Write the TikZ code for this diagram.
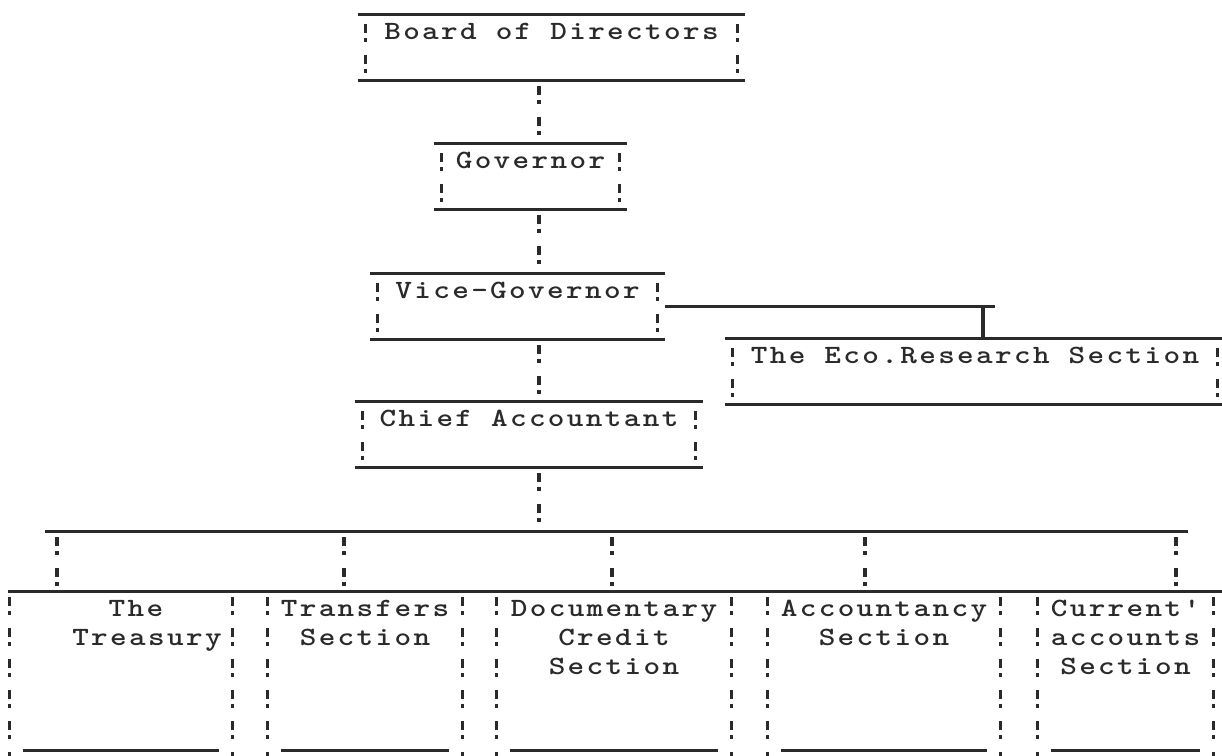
\documentclass[tikz,border=0pt]{standalone}
\usepackage{fontspec}
\usetikzlibrary{positioning}

\definecolor{ink}{HTML}{2A2A2A}
\newfontfamily\typewriter{lmmonolt10-bold.otf}[FakeStretch=1.2,LetterSpace=9]
\newcommand\typer{\fontsize{15pt}{16.5pt}\typewriter}

\begin{document}
\begin{tikzpicture}[x=0.02cm, y=-0.02cm,
    rule/.style={line width=1.7pt, draw=ink},
    bang/.style={line width=2pt, draw=ink, dash pattern=on 0.18cm off 0.1cm on 0.08cm off 0.26cm},
    tap/.style={line width=2.6pt, draw=ink},
    headbox/.style={anchor=north, inner sep=0pt, text height=0.5cm, text depth=0.82cm, font=\typer, text=ink},
    unitbox/.style={anchor=north, inner sep=0pt, text height=0.5cm, text depth=2.68cm, align=center, font=\typer, text=ink}]
  \fill[white] (0,0) rectangle (1222,755);
  \useasboundingbox (0,0) rectangle (1222,755);

  % Head offices
  \node[headbox, minimum width=7.74cm] (board) at (551.5,14) {Board of Directors};
  \node[headbox, minimum width=3.86cm] (gov) at (530.5,143) {Governor};
  \node[headbox, minimum width=5.9cm] (vice) at (517.5,273) {Vice-Governor};
  \node[headbox, minimum width=10cm] (eco) at (975,338) {The Eco.Research Section};
  \node[headbox, minimum width=6.96cm] (chief) at (529,401) {Chief Accountant};

  \foreach \n in {board,gov,vice,eco,chief} {
    \draw[rule] (\n.north west) -- (\n.north east);
    \draw[rule] (\n.south west) -- (\n.south east);
    \draw[bang, dash phase=0.42cm] ([xshift=0.16cm]\n.north west) -- ([xshift=0.16cm]\n.south west);
    \draw[bang, dash phase=0.42cm] ([xshift=-0.16cm]\n.north east) -- ([xshift=-0.16cm]\n.south east);
  }

  % Sections
  \node[unitbox, text width=4.44cm] (treasury) at (121,591) {\hspace*{0.6cm}The\\\hspace*{1.04cm}Treasury};
  \node[unitbox, text width=3.88cm] (transfers) at (365,591) {Transfers\\Section};
  \node[unitbox, text width=4.68cm] (credit) at (614,591) {Documentary\\Credit\\Section};
  \node[unitbox, text width=4.64cm] (accounts) at (884,591) {Accountancy\\Section};
  \node[unitbox, text width=3.5cm] (current) at (1125.5,591) {Current'\\accounts\\Section};

  \foreach \n in {treasury,transfers,credit,accounts,current} {
    \draw[bang, dash phase=0.5cm] (\n.north west) -- ([yshift=-0.2cm]\n.south west);
    \draw[bang, dash phase=0.5cm] (\n.north east) -- ([yshift=-0.2cm]\n.south east);
    \draw[rule] ([xshift=0.26cm]\n.south west) -- ([xshift=-0.26cm]\n.south east);
  }
  \draw[rule] ([xshift=-0.04cm]treasury.north west) -- ([xshift=0.2cm]current.north east);

  % Links
  \coordinate (spine) at (539,0);
  \coordinate (busL) at (45,531);
  \coordinate (busR) at (1188,531);
  \draw[bang, dash phase=0.52cm] (board.south -| spine) -- (gov.north -| spine);
  \draw[bang, dash phase=0.52cm] (gov.south -| spine) -- (vice.north -| spine);
  \draw[bang, dash phase=0.52cm] (vice.south -| spine) -- (chief.north -| spine);
  \draw[bang, dash phase=0.52cm] (chief.south -| spine) -- (spine |- busL);
  \draw[rule] (busL) -- (busR);
  \foreach \x/\n [count=\i] in {57/treasury,344/transfers,612/credit,865/accounts,1176/current} {
    \coordinate (drop\i) at (\x,531);
    \draw[bang, dash phase=0.5cm] (drop\i) -- (drop\i |- \n.north);
  }

  \coordinate (tap) at (983,0);
  \coordinate (tapend) at (995,0);
  \draw[rule] (vice.east) -- (vice.east -| tapend);
  \draw[tap] (vice.east -| tap) -- (eco.north -| tap);
\end{tikzpicture}
\end{document}
